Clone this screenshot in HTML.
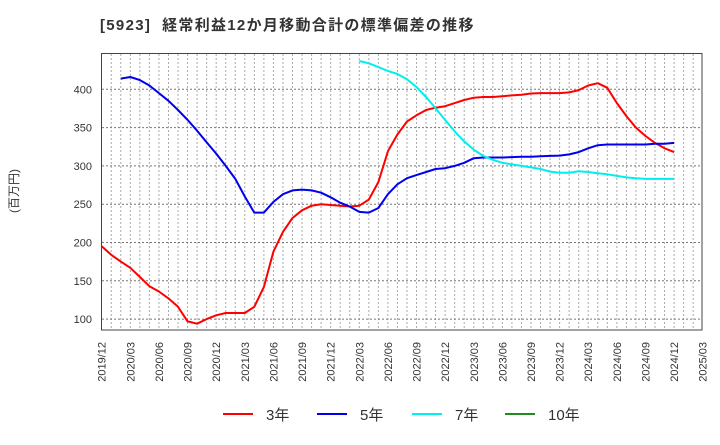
<!DOCTYPE html>
<html><head><meta charset="utf-8"><style>
body{margin:0;background:#fff;width:720px;height:440px;overflow:hidden}
svg text{font-family:"Liberation Sans","Noto Sans CJK JP",sans-serif}
</style></head><body>
<svg id="chart" width="720" height="440" xmlns="http://www.w3.org/2000/svg">
<text x="100" y="30" font-size="15" font-weight="bold" fill="#333" letter-spacing="1.3">[5923]&#160;&#160;経常利益12か月移動合計の標準偏差の推移</text>
<text transform="translate(18,191) rotate(-90)" text-anchor="middle" font-size="12" fill="#333">(百万円)</text>
<g id="grid"></g>
<g id="series"></g>
<rect x="101.5" y="53.5" width="600.5" height="276.5" fill="none" stroke="#444" stroke-width="1"/>
<g id="axes"></g>
<g id="legend"></g>
</svg>
<script>
const yTicks=[100,150,200,250,300,350,400];
const s3=[195,184,175,167,155,143,136,127,116,97,94,100,105,108,108,108,116,142,188,214,232,242,248,250,249,248,247,248,256,279,319,341,358,366,373,376,378,382,386,389,390,390,391,392,393,394.5,395,395,395,396,399,405,408,402,382,365,350,339,330,323,318];
const s5=[null,null,414,416,412,405,395,385,373,360,346,331,316,300,283,260,239,239,253,263,268,269,268,265,259,252,247,240,239,245,263,276,284,288,292,296,297,300,304,310,311,311,311,311.5,312,312,312.5,313,313.5,315,318,323,327,328,328,328,328,328,329,329,330];
const s7=[null,null,null,null,null,null,null,null,null,null,null,null,null,null,null,null,null,null,null,null,null,null,null,null,null,null,null,437,434,429,424,420,413,403,390,375,360,345,332,321,313,308,304,302,300,298,296,292.5,291,291,293,292,290.5,289,287,285,284,283,283,283,283];
const s10=[];
const startYear=2019,startMonth=12,nMonths=64;
const X0=101.7,PX=9.54,Y400=89.3,PU=0.766;
const xs=i=>X0+i*PX, ys=v=>Y400-(v-400)*PU;
const NS="http://www.w3.org/2000/svg";
function mk(tag,attrs,parent){const e=document.createElementNS(NS,tag);for(const k in attrs)e.setAttribute(k,attrs[k]);parent.appendChild(e);return e;}
const grid=document.getElementById('grid'),axes=document.getElementById('axes'),ser=document.getElementById('series'),leg=document.getElementById('legend');
for(let i=1;i<nMonths-1;i++){const l=mk('line',{x1:xs(i),x2:xs(i),y1:54,y2:330,stroke:'#aaa','stroke-dasharray':'2,2','stroke-width':1},grid);

}
yTicks.forEach(v=>{const l=mk('line',{x1:102,x2:702,y1:ys(v),y2:ys(v),stroke:'#777','stroke-dasharray':'2,2','stroke-width':1},grid);


const t=mk('text',{x:92,y:ys(v)+4,'text-anchor':'end','font-size':11,fill:'#333'},axes);t.textContent=v;

});
for(let i=0;i<nMonths;i+=3){let m=startMonth+i,y=startYear+Math.floor((m-1)/12);m=((m-1)%12)+1;
const t=mk('text',{transform:`translate(${xs(i)+4},342) rotate(-90)`,'text-anchor':'end','font-size':11,fill:'#333'},axes);
t.textContent=y+'/'+String(m).padStart(2,'0');

}
function line(arr,color,name){let d='';arr.forEach((v,i)=>{if(v==null)return;d+=(d?'L':'M')+xs(i).toFixed(1)+','+ys(v).toFixed(1);});
if(!d)return;const p=mk('path',{d:d,fill:'none',stroke:color,'stroke-width':2,'stroke-linejoin':'round'},ser);

}
line(s3,'#ff0000','series-3y');line(s5,'#0000ee','series-5y');line(s7,'#00eeee','series-7y');line(s10,'#228b22','series-10y');
[['3年','#ff0000',223],['5年','#0000ee',317],['7年','#00eeee',412],['10年','#228b22',505]].forEach(([lab,c,x])=>{
const g=mk('g',{},leg);


mk('line',{x1:x,x2:x+30,y1:414,y2:414,stroke:c,'stroke-width':2},g);
const t=mk('text',{x:x+43,y:420,'font-size':15,fill:'#333'},g);t.textContent=lab;});
</script>
</body></html>
